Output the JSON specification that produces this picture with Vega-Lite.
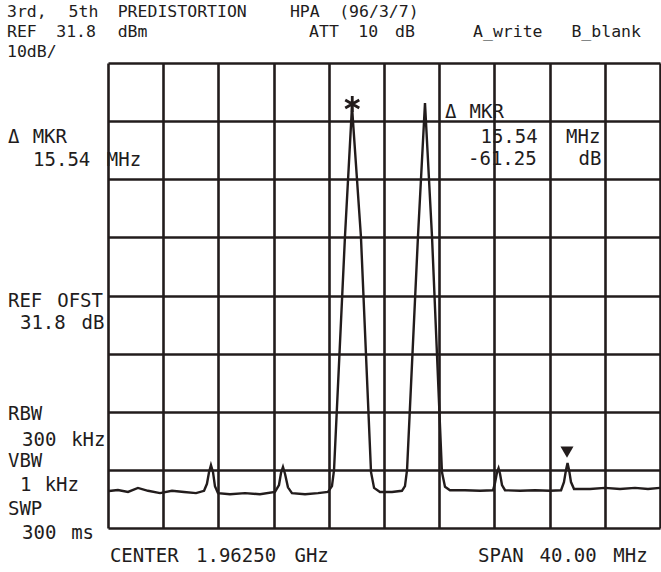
{
  "$schema": "https://vega.github.io/schema/vega-lite/v6.json",
  "autosize": "none",
  "width": 552,
  "height": 465,
  "padding": {"left": 108, "top": 63, "right": 1, "bottom": 44},
  "background": "white",
  "config": {"view": {"stroke": null}, "font": "DejaVu Sans Mono"},
  "datasets": {
    "trace": [
      {"f": -19.93, "dB": -41.83}, {"f": -19.28, "dB": -41.66}, {"f": -18.55, "dB": -42.0}, {"f": -17.83, "dB": -41.3},
      {"f": -17.10, "dB": -41.8}, {"f": -16.23, "dB": -42.2}, {"f": -15.36, "dB": -41.8}, {"f": -14.49, "dB": -42.0},
      {"f": -13.62, "dB": -42.2}, {"f": -13.04, "dB": -41.8}, {"f": -12.83, "dB": -40.6}, {"f": -12.68, "dB": -38.6},
      {"f": -12.54, "dB": -37.4}, {"f": -12.39, "dB": -38.6}, {"f": -12.25, "dB": -41.0}, {"f": -12.03, "dB": -42.2},
      {"f": -11.16, "dB": -42.4}, {"f": -10.07, "dB": -42.2}, {"f": -8.99, "dB": -42.4}, {"f": -7.90, "dB": -42.0},
      {"f": -7.61, "dB": -40.8}, {"f": -7.46, "dB": -38.7}, {"f": -7.32, "dB": -37.7}, {"f": -7.17, "dB": -38.9},
      {"f": -6.96, "dB": -41.2}, {"f": -6.67, "dB": -42.2}, {"f": -5.72, "dB": -42.4}, {"f": -4.78, "dB": -42.2},
      {"f": -4.06, "dB": -42.0}, {"f": -3.77, "dB": -41.0}, {"f": -3.62, "dB": -38.2}, {"f": -2.83, "dB": 1.86},
      {"f": -2.32, "dB": 24.3}, {"f": -1.67, "dB": 1.86}, {"f": -0.94, "dB": -38.6}, {"f": -0.72, "dB": -41.3},
      {"f": -0.29, "dB": -42.0}, {"f": 0.58, "dB": -42.0}, {"f": 1.30, "dB": -41.8}, {"f": 1.52, "dB": -41.0},
      {"f": 1.67, "dB": -38.2}, {"f": 2.46, "dB": 1.86}, {"f": 2.97, "dB": 24.92}, {"f": 3.48, "dB": 1.86},
      {"f": 4.20, "dB": -38.6}, {"f": 4.42, "dB": -41.1}, {"f": 4.78, "dB": -41.7}, {"f": 5.87, "dB": -41.7},
      {"f": 6.96, "dB": -41.8}, {"f": 7.90, "dB": -41.7}, {"f": 8.04, "dB": -40.5}, {"f": 8.19, "dB": -38.6},
      {"f": 8.30, "dB": -37.9}, {"f": 8.41, "dB": -38.9}, {"f": 8.55, "dB": -40.8}, {"f": 8.77, "dB": -41.7},
      {"f": 9.86, "dB": -41.8}, {"f": 10.94, "dB": -41.7}, {"f": 12.03, "dB": -41.8}, {"f": 12.83, "dB": -41.7},
      {"f": 13.04, "dB": -40.3}, {"f": 13.19, "dB": -38.2}, {"f": 13.30, "dB": -37.0}, {"f": 13.41, "dB": -38.2},
      {"f": 13.55, "dB": -40.3}, {"f": 13.77, "dB": -41.5}, {"f": 14.93, "dB": -41.5}, {"f": 16.01, "dB": -41.3},
      {"f": 17.10, "dB": -41.5}, {"f": 18.19, "dB": -41.3}, {"f": 19.13, "dB": -41.5}, {"f": 20.0, "dB": -41.3}
    ],
    "header": [
      {"text": "3rd,", "f": -27.32, "dB": 39.71},
      {"text": "5th", "f": -22.86, "dB": 39.71},
      {"text": "PREDISTORTION", "f": -19.30, "dB": 39.71},
      {"text": "HPA", "f": -6.82, "dB": 39.71},
      {"text": "(96/3/7)", "f": -3.25, "dB": 39.71},
      {"text": "REF", "f": -27.32, "dB": 36.27},
      {"text": "31.8", "f": -23.75, "dB": 36.27},
      {"text": "dBm", "f": -19.30, "dB": 36.27},
      {"text": "ATT", "f": -5.43, "dB": 36.27},
      {"text": "10", "f": -1.87, "dB": 36.27},
      {"text": "dB", "f": 0.80, "dB": 36.27},
      {"text": "A_write", "f": 6.45, "dB": 36.27},
      {"text": "B_blank", "f": 13.58, "dB": 36.27},
      {"text": "10dB/", "f": -27.32, "dB": 32.83}
    ],
    "notes": [
      {"text": "Δ", "f": -27.25, "dB": 18.04},
      {"text": "MKR", "f": -25.46, "dB": 18.04},
      {"text": "15.54", "f": -25.43, "dB": 14.08},
      {"text": "MHz", "f": -20.09, "dB": 14.08},
      {"text": "REF", "f": -27.25, "dB": -10.18},
      {"text": "OFST", "f": -23.68, "dB": -10.18},
      {"text": "31.8", "f": -26.38, "dB": -13.96},
      {"text": "dB", "f": -21.92, "dB": -13.96},
      {"text": "RBW", "f": -27.25, "dB": -29.62},
      {"text": "300", "f": -26.23, "dB": -34.09},
      {"text": "kHz", "f": -22.67, "dB": -34.09},
      {"text": "VBW", "f": -27.25, "dB": -37.71},
      {"text": "1", "f": -26.38, "dB": -41.83},
      {"text": "kHz", "f": -24.59, "dB": -41.83},
      {"text": "SWP", "f": -27.25, "dB": -45.96},
      {"text": "300", "f": -26.23, "dB": -50.09},
      {"text": "ms", "f": -22.67, "dB": -50.09},
      {"text": "CENTER", "f": -19.86, "dB": -54.05},
      {"text": "1.96250", "f": -13.62, "dB": -54.05},
      {"text": "GHz", "f": -6.49, "dB": -54.05},
      {"text": "SPAN", "f": 6.81, "dB": -54.05},
      {"text": "40.00", "f": 11.27, "dB": -54.05},
      {"text": "MHz", "f": 16.62, "dB": -54.05},
      {"text": "Δ", "f": 4.42, "dB": 22.34},
      {"text": "MKR", "f": 6.20, "dB": 22.34},
      {"text": "15.54", "f": 6.99, "dB": 18.04},
      {"text": "MHz", "f": 13.19, "dB": 18.04},
      {"text": "-61.25", "f": 6.09, "dB": 14.25},
      {"text": "dB", "f": 14.09, "dB": 14.25}
    ],
    "markers": [
      {"kind": "ref", "f": -2.3, "dB": 24.75},
      {"kind": "delta", "f": 13.26, "dB": -35.13}
    ]
  },
  "layer": [
    {
      "data": {"name": "trace"},
      "mark": {"type": "line", "color": "#221c1c", "strokeWidth": 2.4, "interpolate": "linear"},
      "encoding": {
        "x": {
          "field": "f", "type": "quantitative",
          "scale": {"domain": [-20, 20], "nice": false, "zero": false},
          "axis": {"values": [-20, -16, -12, -8, -4, 0, 4, 8, 12, 16, 20], "grid": true, "gridColor": "#221c1c", "gridWidth": 2.6, "gridOpacity": 1, "labels": false, "ticks": false, "domain": false, "title": null}
        },
        "y": {
          "field": "dB", "type": "quantitative",
          "scale": {"domain": [-48.2, 31.8], "nice": false, "zero": false},
          "axis": {"values": [-48.2, -38.2, -28.2, -18.2, -8.2, 1.8, 11.8, 21.8, 31.8], "grid": true, "gridColor": "#221c1c", "gridWidth": 2.6, "gridOpacity": 1, "labels": false, "ticks": false, "domain": false, "title": null}
        }
      }
    },
    {
      "data": {"name": "markers"},
      "transform": [{"filter": "datum.kind === 'ref'"}],
      "mark": {"type": "point", "shape": "M0,-1L0,1M-0.87,-0.5L0.87,0.5M-0.87,0.5L0.87,-0.5", "filled": false, "stroke": "#221c1c", "strokeWidth": 2.8, "size": 260, "opacity": 1},
      "encoding": {"x": {"field": "f", "type": "quantitative"}, "y": {"field": "dB", "type": "quantitative"}}
    },
    {
      "data": {"name": "markers"},
      "transform": [{"filter": "datum.kind === 'delta'"}],
      "mark": {"type": "point", "shape": "triangle-down", "filled": true, "color": "#221c1c", "size": 170, "opacity": 1},
      "encoding": {"x": {"field": "f", "type": "quantitative"}, "y": {"field": "dB", "type": "quantitative"}}
    },
    {
      "data": {"name": "header"},
      "mark": {"type": "text", "align": "left", "baseline": "alphabetic", "font": "DejaVu Sans Mono", "fontSize": 16.5, "color": "#221c1c"},
      "encoding": {"x": {"field": "f", "type": "quantitative"}, "y": {"field": "dB", "type": "quantitative"}, "text": {"field": "text"}}
    },
    {
      "data": {"name": "notes"},
      "mark": {"type": "text", "align": "left", "baseline": "alphabetic", "font": "DejaVu Sans Mono", "fontSize": 19, "color": "#221c1c"},
      "encoding": {"x": {"field": "f", "type": "quantitative"}, "y": {"field": "dB", "type": "quantitative"}, "text": {"field": "text"}}
    }
  ]
}
